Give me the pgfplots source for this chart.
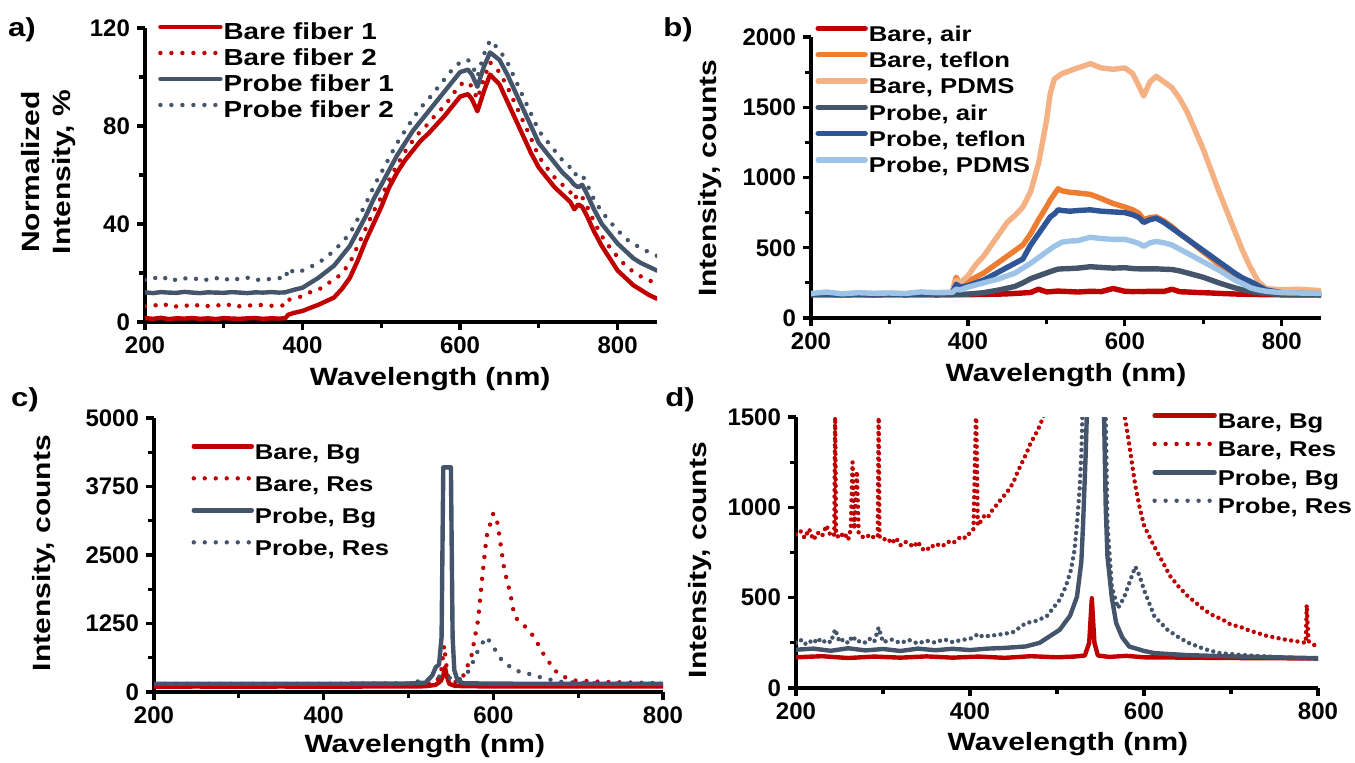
\documentclass[border=0pt]{standalone}
\usepackage{fontspec}
\setmainfont{Liberation Sans}
\newfontfamily\widefont{Liberation Sans}[FakeStretch=1.2]
\usepackage{pgfplots}
\pgfplotsset{compat=1.18}
\usepackage{pgfplotstable}

\definecolor{bred}{HTML}{C00000}
\definecolor{slate}{HTML}{44546A}
\definecolor{orng}{HTML}{ED7D31}
\definecolor{lorng}{HTML}{F4B183}
\definecolor{dblue}{HTML}{2F5597}
\definecolor{lblue}{HTML}{9DC3E6}

\newcommand\ticksfont{\bfseries\fontsize{12}{12}\selectfont}
\newcommand\labfont{\widefont\bfseries\fontsize{12.5}{15.5}\selectfont}
\newcommand\legfont{\widefont\bfseries\fontsize{10.7}{12}\selectfont}
\newcommand\panelfont{\widefont\bfseries\fontsize{13}{13}\selectfont}

\pgfplotsset{
  panel/.style={
    scale only axis,
    axis lines=left,
    axis line style={-, line width=2.4pt, black},
    tick style={black, line width=1.6pt},
    tick align=outside,
    major tick length=4pt,
    minor tick length=3pt,
    minor x tick num=1,
    minor y tick num=1,
    xmin=200,
    xtick={200,400,600,800},
    ymin=0,
    tick label style={font=\ticksfont},
    /pgf/number format/assume math mode=true,
    /pgf/number format/1000 sep={},
    xlabel={Wavelength (nm)},
    label style={font=\labfont},
    legend style={draw=none, fill=none, inner sep=0pt, font=\legfont,
      nodes={inner xsep=0.5pt, inner ysep=0pt, text height=8pt, text depth=2pt}},
    legend cell align=left,
    legend image code/.code={\draw[#1] (0pt,3.5pt) -- (30pt,3.5pt);},
  },
  solid line/.style={line width=2.2pt, line cap=round, line join=round},
  dot line/.style={line width=2.2pt, line cap=round, dash pattern=on 0pt off 5.5pt},
  dense dot/.style={line width=2.2pt, line cap=round, dash pattern=on 0pt off 3.2pt},
}

% panel a: normalized spectra
\pgfplotstableread{
x   b1    b2    p1    p2
200 1.6   6.4   12.1  17.2
210 1.3   7.2   11.8  18.4
220 1.7   6.1   12.2  17.0
230 1.2   7.5   12.0  18.6
240 1.5   6.3   11.9  16.9
250 1.4   7.0   12.3  17.9
260 1.6   6.0   12.0  17.1
270 1.3   7.3   11.8  18.2
280 1.5   6.5   12.1  17.0
290 1.2   7.1   12.0  18.0
300 1.6   6.2   11.9  16.8
310 1.4   7.4   12.2  18.3
320 1.3   6.4   12.0  17.2
330 1.5   7.0   11.8  18.1
340 1.6   6.3   12.1  16.9
350 1.3   7.2   12.0  17.8
360 1.5   6.6   12.2  17.4
370 1.4   7.1   12.0  18.0
378 1.5   6.5   12.1  17.5
382 3.0   9.0   12.5  22.0
390 3.8   9.8   13.2  20.0
400 4.5   10.5  14    21
410 5.8   12.2  16    22.5
420 7     13    18    24
430 8.5   15.5  20.5  26.5
440 10    17    23    29
450 13.5  20    27    32.5
460 18    24    31    36
470 25    31    37    42
480 33    38    43    48
490 40    45    50    55
500 47    51    56    61
510 55    58    62    67
520 61    64    68    73
530 66    69.5  73    78
540 70    74    78    83
550 74    78    82    87.5
560 77    81    86    91
570 80.5  85    90    95
580 84    88    94    99
590 88    92.5  98    103
600 92    97    102   106
610 93    98    103   107
615 91    96    101   105
622 86    91    96    100
630 94    99    104   109
638 101   106   110   115
650 97    102   107   111
660 90    96    101   106
670 83    89    94    99
680 76    82    87    92
690 69    75    80    85
700 63    67.5  73    78
710 59    63    69    74
720 55    59    65    70
730 52    56    61    66
740 49    53    58    63
745 46    50    56    60
750 48    52.5  55    61
755 47    51    56    60
760 44    48    53    57
770 37    41    46    50
780 31    35    40    45
790 26    30.5  36    41
800 21    26.6  32    37.5
810 18    23    29    34
820 15    20.5  26    32
830 13    18.5  24    30
840 11    17    22.5  28.5
850 9.5   15.7  21    27
}\tabA

% panel b: raw spectra, counts
\pgfplotstableread{
x   ba   bt   bp    pa   pt   pp
200 165  170  170   165  170  175
220 166  172  175   166  171  185
240 164  170  172   165  169  172
260 166  171  178   166  172  180
280 165  170  173   164  170  176
300 166  172  176   166  171  178
320 165  171  174   165  170  174
340 166  173  180   166  172  186
360 165  175  178   165  174  180
380 166  180  185   166  178  182
385 166  290  270   168  240  205
390 166  240  250   168  220  200
400 166  260  300   170  230  220
410 167  290  380   175  250  235
420 168  320  440   180  270  250
430 169  360  520   190  300  265
440 170  400  600   200  330  280
450 172  440  680   212  360  300
460 175  480  730   225  390  320
470 178  520  790   250  420  355
480 182  600  900   280  520  390
490 205  700  1100  300  600  430
500 186  790  1400  320  680  470
505 187  840  1600  330  720  490
510 190  880  1700  340  740  510
515 192  920  1720  348  770  525
520 190  905  1740  350  765  540
530 188  895  1760  352  760  548
540 185  890  1780  355  765  550
556 190  880  1810  365  770  575
570 188  850  1780  360  760  565
585 210  815  1770  355  755  560
600 190  790  1780  358  750  560
610 188  770  1740  352  735  545
618 189  745  1650  350  715  530
624 188  700  1580  350  680  510
632 190  715  1680  350  700  535
640 190  720  1720  350  710  545
650 189  690  1680  347  680  535
660 205  650  1640  345  640  520
670 187  600  1560  335  600  490
680 185  560  1460  320  560  460
690 182  515  1330  305  520  430
700 180  470  1200  290  480  400
710 178  425  1050  270  440  370
720 175  380  900   250  400  340
730 173  335  760   232  360  305
740 171  290  620   215  320  270
750 169  255  480   200  285  245
760 168  230  360   190  260  215
770 167  210  260   180  230  200
780 166  195  210   175  200  190
800 165  180  200   168  180  180
820 165  178  205   166  176  178
850 165  175  195   165  172  175
}\tabB

% panel c
\pgfplotstableread{
x y
200 95
250 100
300 95
350 100
400 95
450 100
500 100
520 105
532 130
538 200
541 300
543 450
545 300
548 150
555 110
600 100
700 100
800 100
}\cBareBg
\pgfplotstableread{
x y
200 130
300 130
400 130
500 135
530 150
538 300
542 850
546 300
552 170
560 200
564 274
574 640
582 1311
587 2104
592 2835
600 3262
605 3079
613 2226
620 1799
625 1372
636 1220
648 1006
661 640
676 335
692 213
732 183
800 160
}\cBareRes
\pgfplotstableread{
x y
200 150
300 150
400 150
500 155
520 170
528 300
532 450
536 500
539 1000
541 4100
550 4100
552 1000
554 400
558 200
565 160
600 152
700 150
800 150
}\cProbeBg
\pgfplotstableread{
x y
200 150
400 150
500 160
530 250
540 300
550 250
559 213
572 396
580 701
588 915
592 1006
600 823
610 579
625 396
641 335
661 244
681 183
732 152
800 150
}\cProbeRes

% panel d
\pgfplotstableread{
x y
200 170
230 176
260 166
290 174
320 168
350 175
380 168
410 174
440 167
470 176
500 170
520 174
532 180
537 250
540 497
543 250
547 180
560 172
580 178
600 170
650 168
700 166
750 165
800 163
}\dBareBg
\pgfplotstableread{
x y
200 850
205 870
210 830
215 880
220 820
225 860
230 840
235 900
240 840
244 850
245 1550
246 850
250 830
255 860
260 820
263 880
265 1250
267 880
270 1200
272 860
275 840
280 830
285 850
290 830
294 840
295 1550
296 840
300 820
305 830
310 800
315 830
320 790
325 810
330 800
335 780
340 810
345 770
350 760
355 790
360 780
365 800
370 790
375 810
380 800
385 820
390 840
395 830
400 860
404 880
407 1550
409 900
412 920
416 950
420 940
425 980
430 1010
435 1040
440 1070
445 1100
450 1140
455 1200
460 1250
465 1300
470 1360
475 1400
480 1450
485 1510
490 1560
500 1700
540 3200
570 1700
578 1500
582 1380
586 1250
590 1120
595 1000
600 900
610 800
620 710
630 620
640 560
650 510
660 470
670 430
680 400
690 380
700 350
710 340
720 320
730 305
740 290
750 280
760 270
770 262
780 255
786 250
787 460
789 260
795 240
800 225
}\dBareRes
\pgfplotstableread{
x y
200 212
220 218
240 206
260 220
280 208
300 216
320 205
340 218
360 209
380 217
400 210
420 218
440 222
464 230
480 250
503 322
515 400
523 506
528 700
530 911
533 1300
536 1800
540 4000
549 4000
553 1800
556 1000
558 727
563 500
568 359
575 280
583 230
600 205
612 193
650 182
700 175
750 170
800 165
}\dProbeBg
\pgfplotstableread{
x y
200 250
205 268
210 242
215 262
220 247
225 276
230 250
235 266
240 252
245 325
250 255
255 270
260 248
265 288
270 255
275 262
280 250
285 272
290 256
295 335
300 254
310 268
320 249
330 266
340 246
350 262
360 251
370 270
380 254
390 266
400 272
410 300
414 285
425 290
440 300
450 310
464 359
475 370
488 396
503 488
510 560
516 653
520 760
523 911
526 1100
528 1300
531 1800
540 4000
550 4000
555 1800
558 900
563 561
570 442
577 500
583 580
590 672
595 620
600 543
612 396
627 322
640 280
652 248
670 215
687 193
720 180
760 170
800 160
}\dProbeRes

\begin{document}
\begin{tikzpicture}
\path[use as bounding box] (0,0) rectangle (677.5pt,381pt);

% ---- a ----
\begin{axis}[panel, at={(72.5pt,220pt)}, anchor=south west,
  width=256pt, height=147pt, xmax=850, ymax=120,
  ytick={0,40,80,120},
  ylabel={Normalized\\Intensity, \%},
  ylabel style={at={(axis description cs:-0.189,0.51)}, anchor=center, align=center},
  xlabel style={at={(axis description cs:0.557,0)}, anchor=base, yshift=-31.5pt},
  legend style={at={(axis description cs:0.025,1.015)}, anchor=north west, row sep=3pt,
    font=\widefont\bfseries\fontsize{11.6}{12}\selectfont},
]
\addplot[bred, solid line] table[x=x, y=b1] {\tabA};
\addlegendentry{Bare fiber 1}
\addplot[bred, dot line] table[x=x, y=b2] {\tabA};
\addlegendentry{Bare fiber 2}
\addplot[slate, solid line] table[x=x, y=p1] {\tabA};
\addlegendentry{Probe fiber 1}
\addplot[slate, dot line] table[x=x, y=p2] {\tabA};
\addlegendentry{Probe fiber 2}
\end{axis}

% ---- b ----
\begin{axis}[panel, at={(405.5pt,222pt)}, anchor=south west,
  width=255pt, height=140.5pt, xmax=850, ymax=2000,
  ytick={0,500,1000,1500,2000},
  ylabel={Intensity, counts},
  ylabel style={at={(axis description cs:-0.198,0.498)}, anchor=center},
  xlabel style={at={(axis description cs:0.5,0)}, anchor=base, yshift=-31.5pt},
  legend style={at={(axis description cs:0.008,1.043)}, anchor=north west, row sep=3.15pt},
  legend image code/.code={\draw[#1] (0pt,3.5pt) -- (23.5pt,3.5pt);},
]
\addplot[bred, solid line, line width=2.7pt] table[x=x, y=ba] {\tabB};
\addlegendentry{Bare, air}
\addplot[orng, solid line, line width=2.7pt] table[x=x, y=bt] {\tabB};
\addlegendentry{Bare, teflon}
\addplot[lorng, solid line, line width=2.7pt] table[x=x, y=bp] {\tabB};
\addlegendentry{Bare, PDMS}
\addplot[slate, solid line, line width=2.7pt] table[x=x, y=pa] {\tabB};
\addlegendentry{Probe, air}
\addplot[dblue, solid line, line width=2.7pt] table[x=x, y=pt] {\tabB};
\addlegendentry{Probe, teflon}
\addplot[lblue, solid line, line width=2.7pt] table[x=x, y=pp] {\tabB};
\addlegendentry{Probe, PDMS}
\end{axis}

% ---- c ----
\begin{axis}[panel, at={(77pt,35pt)}, anchor=south west,
  width=254.5pt, height=137pt, xmax=800, ymax=5000,
  ytick={0,1250,2500,3750,5000},
  ylabel={Intensity, counts},
  ylabel style={at={(axis description cs:-0.216,0.507)}, anchor=center},
  xlabel style={at={(axis description cs:0.532,0)}, anchor=base, yshift=-30pt},
  legend style={at={(axis description cs:0.073,0.909)}, anchor=north west, row sep=6pt},
  legend image code/.code={\draw[#1] (0pt,3.5pt) -- (29pt,3.5pt);},
]
\addplot[bred, solid line] table {\cBareBg};
\addlegendentry{Bare, Bg}
\addplot[bred, dot line] table {\cBareRes};
\addlegendentry{Bare, Res}
\addplot[slate, solid line] table {\cProbeBg};
\addlegendentry{Probe, Bg}
\addplot[slate, dot line] table {\cProbeRes};
\addlegendentry{Probe, Res}
\end{axis}

% ---- d ----
\begin{axis}[panel, at={(398pt,37pt)}, anchor=south west,
  width=261pt, height=135.5pt, xmax=800, ymax=1500,
  ytick={0,500,1000,1500},
  ylabel={Intensity, counts},
  ylabel style={at={(axis description cs:-0.184,0.472)}, anchor=center},
  xlabel style={at={(axis description cs:0.521,0)}, anchor=base, yshift=-31pt},
  legend style={at={(axis description cs:0.682,1.018)}, anchor=north west, row sep=4.2pt},
  legend image code/.code={\draw[#1] (0pt,3.5pt) -- (30pt,3.5pt);},
]
\addplot[bred, solid line] table {\dBareBg};
\addlegendentry{Bare, Bg}
\addplot[bred, dense dot, forget plot] table {\dBareRes};
\addplot[bred, dot line] coordinates {(0,0)};
\addlegendentry{Bare, Res}
\addplot[slate, solid line] table {\dProbeBg};
\addlegendentry{Probe, Bg}
\addplot[slate, dense dot, forget plot] table {\dProbeRes};
\addplot[slate, dot line] coordinates {(0,0)};
\addlegendentry{Probe, Res}
\end{axis}

\node[font=\panelfont] at (11pt,366pt) {a)};
\node[font=\panelfont] at (339pt,366pt) {b)};
\node[font=\panelfont] at (12.5pt,181pt) {c)};
\node[font=\panelfont] at (340pt,181pt) {d)};
\end{tikzpicture}
\end{document}
